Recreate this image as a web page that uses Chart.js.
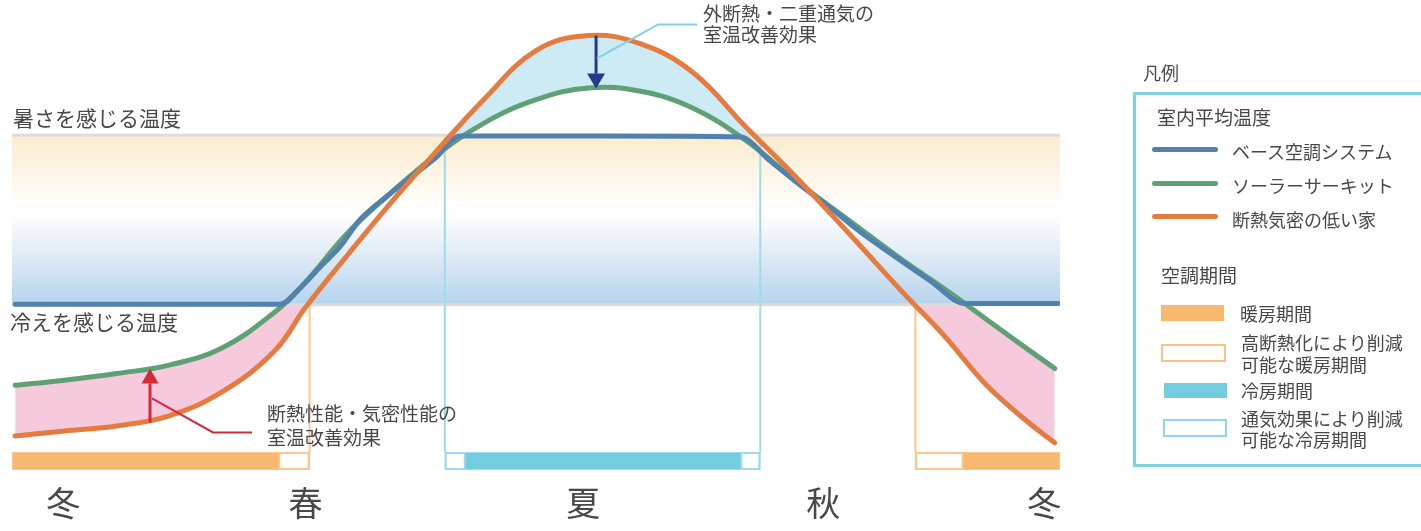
<!DOCTYPE html>
<html><head><meta charset="utf-8">
<script src="https://cdn.jsdelivr.net/npm/chart.js@4.4.1/dist/chart.umd.min.js"></script>
<style>
html,body{margin:0;padding:0;background:#fff;}
#wrap{position:relative;width:1421px;height:531px;overflow:hidden;font-family:"Noto Sans CJK JP","Noto Sans",sans-serif;color:#4b464b;}
#chartBox{position:absolute;left:0;top:0;width:1421px;height:531px;}
.t{position:absolute;white-space:nowrap;}
#lgBox{position:absolute;left:1133px;top:92px;width:300px;height:369px;border:3px solid #80d0e2;}
.sw{position:absolute;}
</style></head>
<body>
<div id="wrap">
  <div id="chartBox"><canvas id="c"></canvas></div>
  <div class="t" style="left:1143px;top:62px;font-size:18px;line-height:20px;">凡例</div>
  <div id="lgBox"></div>
  <div class="t" style="left:1157px;top:106px;font-size:19px;line-height:22px;">室内平均温度</div>
  <div class="sw" style="left:1152px;top:147px;width:66px;height:5px;border-radius:3px;background:#5182ad;"></div>
  <div class="t" style="left:1232px;top:140px;font-size:18px;line-height:22px;">ベース空調システム</div>
  <div class="sw" style="left:1152px;top:181px;width:66px;height:5px;border-radius:3px;background:#5fa174;"></div>
  <div class="t" style="left:1232px;top:174px;font-size:18px;line-height:22px;">ソーラーサーキット</div>
  <div class="sw" style="left:1152px;top:214px;width:66px;height:5px;border-radius:3px;background:#e57b3f;"></div>
  <div class="t" style="left:1232px;top:208px;font-size:18px;line-height:22px;">断熱気密の低い家</div>
  <div class="t" style="left:1161px;top:264px;font-size:19px;line-height:22px;">空調期間</div>
  <div class="sw" style="left:1161px;top:305px;width:63px;height:16px;background:#f9b870;"></div>
  <div class="t" style="left:1240px;top:302px;font-size:18px;line-height:22px;">暖房期間</div>
  <div class="sw" style="left:1161px;top:344px;width:61px;height:14px;border:2px solid #fbc285;background:#fff;"></div>
  <div class="t" style="left:1241px;top:331px;font-size:18px;line-height:22px;">高断熱化により削減<br>可能な暖房期間</div>
  <div class="sw" style="left:1164px;top:383px;width:63px;height:15px;background:#72cde0;"></div>
  <div class="t" style="left:1241px;top:379px;font-size:18px;line-height:22px;">冷房期間</div>
  <div class="sw" style="left:1163px;top:419px;width:60px;height:14px;border:2px solid #8fd6e6;background:#fff;"></div>
  <div class="t" style="left:1241px;top:408px;font-size:18px;line-height:21px;">通気効果により削減<br>可能な冷房期間</div>
</div>
<script>
// ---- data (x: position through the year 0-100, y: indoor temperature) ----
const seasonPositions = [4.9, 28.0, 54.5, 77.4, 98.5];
const seasonLabels = ['冬', '春', '夏', '秋', '冬'];

const hotTemp = 28;   // 暑さを感じる温度
const coldTemp = 18;  // 冷えを感じる温度

const curveX = [0.3, 5, 10, 15, 20, 25, 28, 32, 36, 40, 45, 50, 55, 60, 65, 70, 75, 80, 85, 89, 93, 97, 99.5];
const lowInsulationHouse = [10.2, 10.5, 10.8, 11.4, 12.8, 15.2, 17.8, 20.9, 23.9, 26.7, 30.1, 33.0, 33.9, 33.4, 31.7, 28.5, 25.4, 22.1, 18.7, 16.1, 13.2, 11.0, 9.8];
const solarCircuit = [13.2, 13.5, 13.9, 14.4, 15.4, 17.5, 19.3, 22.2, 24.5, 26.6, 28.7, 30.1, 30.8, 30.6, 29.6, 27.7, 25.2, 22.9, 20.6, 18.9, 17.1, 15.3, 14.2];

const baseX = [0.3, 25.6, 27.5, 29.4, 31.3, 33.2, 35.6, 38.0, 40.4, 42.75, 56, 69.5, 72.3, 75.2, 78.1, 80.9, 84.3, 87.6, 90.9, 99.8];
const baseAirConditioning = [18.0, 18.0, 18.96, 20.2, 21.4, 23.0, 24.3, 25.5, 26.65, 27.95, 27.95, 27.9, 26.5, 25.05, 23.7, 22.3, 20.8, 19.4, 18.05, 18.05];

const heatingPeriods = [[0, 28.4], [86.2, 100]];
const heatingReducible = [[25.4, 28.4], [86.2, 90.8]];
const coolingPeriods = [[41.3, 71.4]];
const coolingReducible = [[41.3, 43.3], [69.5, 71.4]];

const insulationArrow = {x: 13.17, from: 11.0, to: 14.2};
const ventilationArrow = {x: 55.73, from: 33.9, to: 30.76};

// ---- colours ----
const C = {
  base: '#5182ad', solar: '#5fa174', low: '#e57b3f',
  cyanFill: '#cdebf4', pinkFill: '#f6c9dd',
  heat: '#f9b870', heatLine: '#fcc68c', cool: '#72cde0', coolLine: '#9edcea',
  text: '#4b464b', red: '#d22b38', navy: '#233a8b', leader: '#7fd3e6'
};

const toPts = (xs, ys) => xs.map((v, i) => ({x: v, y: ys[i]}));

Chart.defaults.font.family = '"Noto Sans CJK JP", "Noto Sans", sans-serif';

function drawArrow(ctx, px, y0, y1, color, shaft, headW, headL) {
  const dir = Math.sign(y1 - y0);
  ctx.strokeStyle = color; ctx.lineWidth = shaft;
  ctx.beginPath(); ctx.moveTo(px, y0); ctx.lineTo(px, y1 - dir * headL); ctx.stroke();
  ctx.fillStyle = color;
  ctx.beginPath(); ctx.moveTo(px, y1);
  ctx.lineTo(px - headW / 2, y1 - dir * headL); ctx.lineTo(px + headW / 2, y1 - dir * headL);
  ctx.closePath(); ctx.fill();
}

const decor = {
  id: 'decor',
  beforeDatasetsDraw(chart) {
    const {ctx, chartArea: a, scales: {x, y}} = chart;
    const yHot = y.getPixelForValue(hotTemp), yCold = y.getPixelForValue(coldTemp);
    const barTop = a.bottom - 28, barH = 18;
    ctx.save();
    const g = ctx.createLinearGradient(0, yHot, 0, yCold);
    g.addColorStop(0, '#fcecce');
    g.addColorStop(0.2, '#fdf4e4');
    g.addColorStop(0.45, '#ffffff');
    g.addColorStop(0.6, '#eef4fa');
    g.addColorStop(1, '#b6d4ed');
    ctx.fillStyle = g;
    ctx.fillRect(a.left, yHot, a.right - a.left, yCold - yHot);
    ctx.fillStyle = '#dcdcdc';
    ctx.fillRect(a.left, yHot - 1.5, a.right - a.left, 3);
    ctx.fillRect(a.left, yCold - 1, a.right - a.left, 3);
    // period guide lines
    ctx.lineWidth = 2;
    ctx.strokeStyle = C.heatLine;
    [heatingPeriods[0][1], heatingPeriods[1][0]].forEach(v => {
      const px = x.getPixelForValue(v);
      ctx.beginPath(); ctx.moveTo(px, yCold + 2); ctx.lineTo(px, barTop); ctx.stroke();
    });
    ctx.strokeStyle = C.coolLine;
    coolingPeriods.forEach(([s, e]) => [s, e].forEach(v => {
      const px = x.getPixelForValue(v);
      ctx.beginPath(); ctx.moveTo(px, yHot + 2); ctx.lineTo(px, barTop); ctx.stroke();
    }));
    // period bars
    const bar = (periods, reduc, fill, line) => {
      periods.forEach(([s, e]) => {
        const p0 = x.getPixelForValue(s), p1 = x.getPixelForValue(e);
        ctx.fillStyle = fill; ctx.fillRect(p0, barTop, p1 - p0, barH);
        ctx.strokeStyle = line; ctx.lineWidth = 1;
        ctx.strokeRect(p0 + 0.5, barTop + 0.5, p1 - p0 - 1, barH - 1);
      });
      reduc.forEach(([s, e]) => {
        const p0 = x.getPixelForValue(s), p1 = x.getPixelForValue(e);
        ctx.fillStyle = line; ctx.fillRect(p0, barTop, p1 - p0, barH);
        ctx.fillStyle = '#ffffff'; ctx.fillRect(p0 + 2, barTop + 2, p1 - p0 - 4, barH - 4);
      });
    };
    bar(heatingPeriods, heatingReducible, C.heat, C.heatLine);
    bar(coolingPeriods, coolingReducible, C.cool, C.coolLine);
    // threshold labels
    ctx.fillStyle = C.text; ctx.font = '21px "Noto Sans CJK JP"';
    ctx.textBaseline = 'middle'; ctx.textAlign = 'left';
    ctx.fillText('暑さを感じる温度', a.left + 1, yHot - 17.5);
    ctx.fillText('冷えを感じる温度', a.left - 2, yCold + 17.5);
    ctx.restore();
  },
  afterDatasetsDraw(chart) {
    const {ctx, scales: {x, y}} = chart;
    ctx.save();
    // insulation arrow (winter)
    const rx = x.getPixelForValue(insulationArrow.x);
    const r0 = y.getPixelForValue(insulationArrow.from), r1 = y.getPixelForValue(insulationArrow.to);
    drawArrow(ctx, rx, r0, r1, C.red, 3, 17, 15);
    const rm = r1 + 30;
    ctx.strokeStyle = C.red; ctx.lineWidth = 2;
    ctx.beginPath(); ctx.moveTo(rx + 2, rm); ctx.lineTo(rx + 63, rm + 34); ctx.lineTo(rx + 102, rm + 34); ctx.stroke();
    ctx.fillStyle = C.text; ctx.font = '19px "Noto Sans CJK JP"';
    ctx.textBaseline = 'middle'; ctx.textAlign = 'left';
    ctx.fillText('断熱性能・気密性能の', rx + 117, rm + 15);
    ctx.fillText('室温改善効果', rx + 117, rm + 39);
    // ventilation arrow (summer)
    const nx = x.getPixelForValue(ventilationArrow.x);
    const n0 = y.getPixelForValue(ventilationArrow.from), n1 = y.getPixelForValue(ventilationArrow.to);
    drawArrow(ctx, nx, n0, n1, C.navy, 3, 18, 15);
    const nm = n0 + 23;
    ctx.strokeStyle = C.leader; ctx.lineWidth = 2;
    ctx.beginPath(); ctx.moveTo(nx + 1, nm); ctx.lineTo(nx + 62, nm - 34); ctx.lineTo(nx + 101, nm - 34); ctx.stroke();
    ctx.fillStyle = C.text;
    ctx.fillText('外断熱・二重通気の', nx + 107, nm - 45);
    ctx.fillText('室温改善効果', nx + 107, nm - 24);
    ctx.restore();
  }
};

new Chart(document.getElementById('c'), {
  type: 'line',
  data: {
    datasets: [
      {label: 'ベース空調システム', data: toPts(baseX, baseAirConditioning), borderColor: C.base, order: 1, fill: false,
       cubicInterpolationMode: 'monotone'},
      {label: 'ソーラーサーキット', data: toPts(curveX, solarCircuit), borderColor: C.solar, order: 2, fill: false,
       cubicInterpolationMode: 'default', tension: 0.4},
      {label: '断熱気密の低い家', data: toPts(curveX, lowInsulationHouse), borderColor: C.low, order: 0,
       cubicInterpolationMode: 'default', tension: 0.4,
       fill: {target: 1, above: C.cyanFill, below: C.pinkFill}}
    ]
  },
  options: {
    responsive: true, maintainAspectRatio: false, animation: false,
    layout: {padding: {left: 12, right: 361, top: 0, bottom: 0}},
    elements: {
      line: {borderWidth: 5, borderCapStyle: 'round', borderJoinStyle: 'round'},
      point: {radius: 0, hoverRadius: 0}
    },
    plugins: {legend: {display: false}, tooltip: {enabled: false}, filler: {drawTime: 'beforeDraw'}},
    scales: {
      x: {
        type: 'linear', min: 0, max: 100, position: 'bottom',
        grid: {display: false, drawTicks: false}, border: {display: false},
        afterBuildTicks: s => { s.ticks = seasonPositions.map(v => ({value: v})); },
        afterFit: s => { s.height = 51; },
        ticks: {autoSkip: false, maxRotation: 0, padding: 3, color: C.text, font: {size: 34},
                callback: (v, i) => seasonLabels[i]}
      },
      y: {type: 'linear', min: 7.6, max: 36, display: false}
    }
  },
  plugins: [decor]
});
</script>
</body></html>
